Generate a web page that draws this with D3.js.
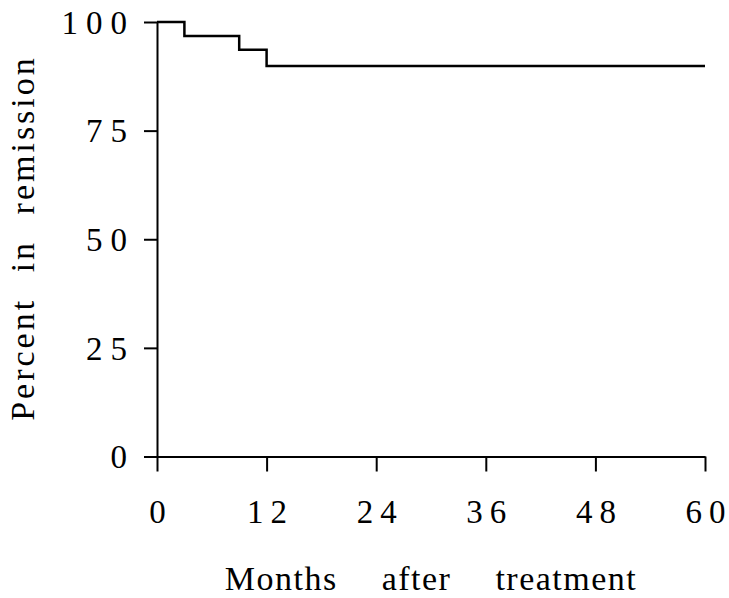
<!DOCTYPE html>
<html>
<head>
<meta charset="utf-8">
<script src="https://cdn.jsdelivr.net/npm/d3@7"></script>
<style>
  body { margin: 0; background: #fff; }
  text { font-family: "Liberation Serif", "Times New Roman", serif; fill: #000; }
</style>
</head>
<body>
<div id="root"></div>
<script>
// data
const months = [0, 3, 9, 12, 60];
const percent = [100, 96.8, 93.6, 89.9, 89.9];
const xTicks = [0, 12, 24, 36, 48, 60];
const yTicks = [0, 25, 50, 75, 100];

const width = 729;
const height = 598;
const margin = { top: 22, right: 24, bottom: 142, left: 157 };

const svg = d3
  .select("#root")
  .append("svg")
  .attr("width", width)
  .attr("height", height);

const x = d3.scaleLinear().domain([0, 60]).range([margin.left, width - margin.right]);
const y = d3.scaleLinear().domain([0, 100]).range([height - margin.bottom + 0.5, margin.top]);

// Axes
const xAxis = svg
  .append("g")
  .attr("transform", `translate(0,${y(0)})`)
  .call(d3.axisBottom(x).tickValues(xTicks).tickSize(15).tickSizeOuter(0).tickFormat(""));

const yAxis = svg
  .append("g")
  .attr("transform", `translate(${x(0)},0)`)
  .call(d3.axisLeft(y).tickValues(yTicks).tickSize(13).tickSizeOuter(0).tickFormat(""));

svg.selectAll(".domain, .tick line").attr("stroke", "#000").attr("stroke-width", 2);

// spaced digits like the original, gaps only between digits
function spacedDigits(sel, gap) {
  sel.each(function (d) {
    const t = d3.select(this);
    String(d).split("").forEach((ch, i) => {
      t.append("tspan").attr("dx", i ? gap : 0).text(ch);
    });
  });
}

xAxis
  .selectAll(".tick")
  .append("text")
  .attr("y", 66)
  .attr("text-anchor", "middle")
  .attr("font-size", 33)
  .call(spacedDigits, 7);

yAxis
  .selectAll(".tick")
  .append("text")
  .attr("x", -30)
  .attr("dy", "0.34em")
  .attr("text-anchor", "end")
  .attr("font-size", 33)
  .call(spacedDigits, 8);

// Kaplan-Meier step line
const line = d3
  .line()
  .x((d, i) => x(months[i]))
  .y((d) => y(d))
  .curve(d3.curveStepAfter);

svg
  .append("path")
  .datum(percent)
  .attr("d", line)
  .attr("fill", "none")
  .attr("stroke", "#000")
  .attr("stroke-width", 2.5);

// axis titles
svg
  .append("text")
  .attr("x", 431)
  .attr("y", 590)
  .attr("text-anchor", "middle")
  .attr("font-size", 34)
  .attr("letter-spacing", 1.5)
  .attr("word-spacing", 34)
  .text("Months after treatment");

svg
  .append("text")
  .attr("transform", "translate(34,238) rotate(-90)")
  .attr("text-anchor", "middle")
  .attr("font-size", 34)
  .attr("letter-spacing", 3)
  .attr("word-spacing", 14)
  .text("Percent in remission");
</script>
</body>
</html>
